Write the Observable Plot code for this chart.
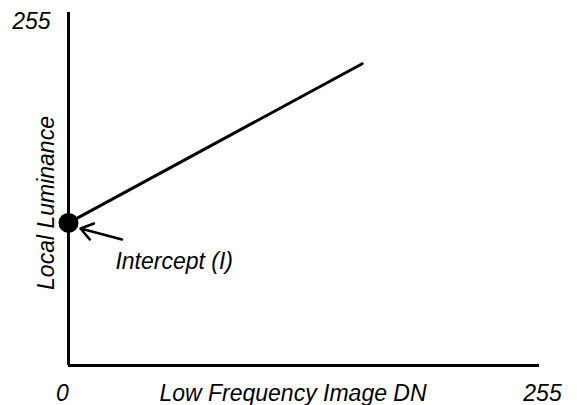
<!DOCTYPE html>
<html>
<head>
<meta charset="utf-8">
<script src="https://cdn.jsdelivr.net/npm/d3@7"></script>
<script src="https://cdn.jsdelivr.net/npm/@observablehq/plot@0.6"></script>
<style>
  html, body { margin: 0; padding: 0; background: #fff; }
  #chart svg { display: block; }
</style>
</head>
<body>
<div id="chart"></div>
<script>
// Data (DN units, 0–255)
const axisDomain = [0, 255];
const lineX = [0, 159];
const lineY = [103, 218];
const interceptX = [0];
const interceptY = [103];
const arrowFromX = [29];
const arrowFromY = [91];
const arrowToX = [6.5];
const arrowToY = [99];
const annotationText = ["Intercept (I)"];
const annotationX = [25.4];
const annotationY = [70];
const xTickValues = [0, 255];
const xTickLabels = ["0", "255"];
const yTickValues = [255];
const yTickLabels = ["255"];
const xTitle = "Low Frequency Image DN";
const yTitle = "Local Luminance";

const font = "'Liberation Sans', Arial, Helvetica, sans-serif";
const fs = 23;

const lineData = lineX.map((x, i) => ({x, y: lineY[i]}));
const dotData = interceptX.map((x, i) => ({x, y: interceptY[i]}));
const arrowData = arrowFromX.map((x, i) => ({x1: x, y1: arrowFromY[i], x2: arrowToX[i], y2: arrowToY[i]}));
const annData = annotationText.map((t, i) => ({t, x: annotationX[i], y: annotationY[i]}));
const xTicks = xTickValues.map((v, i) => ({v, t: xTickLabels[i]}));
const yTicks = yTickValues.map((v, i) => ({v, t: yTickLabels[i]}));

const common = {fontSize: fs, fontStyle: "italic", fill: "#000"};

const chart = Plot.plot({
  width: 577,
  height: 405,
  marginLeft: 68,
  marginRight: 38,
  marginTop: 12,
  marginBottom: 40,
  style: {fontFamily: font, background: "#fff", overflow: "visible"},
  x: {domain: axisDomain, axis: null},
  y: {domain: axisDomain, axis: null},
  marks: [
    Plot.ruleX([axisDomain[0]], {y1: axisDomain[0], y2: axisDomain[1], stroke: "#000", strokeWidth: 3}),
    Plot.ruleY([axisDomain[0]], {x1: axisDomain[0], x2: axisDomain[1], stroke: "#000", strokeWidth: 3}),
    Plot.line(lineData, {x: "x", y: "y", stroke: "#000", strokeWidth: 3}),
    Plot.dot(dotData, {x: "x", y: "y", r: 10, fill: "#000", stroke: "none"}),
    Plot.arrow(arrowData, {x1: "x1", y1: "y1", x2: "x2", y2: "y2", stroke: "#000", strokeWidth: 2.5, headLength: 12, headAngle: 70}),
    Plot.text(annData, {x: "x", y: "y", text: "t", textAnchor: "start", lineAnchor: "bottom", ...common}),
    Plot.text(xTicks.slice(0, 1), {x: "v", y: () => axisDomain[0], text: "t", dx: -6, dy: 35, lineAnchor: "bottom", ...common}),
    Plot.text(xTicks.slice(1), {x: "v", y: () => axisDomain[0], text: "t", dx: 3, dy: 35, lineAnchor: "bottom", ...common}),
    Plot.text(yTicks, {x: () => axisDomain[0], y: "v", text: "t", textAnchor: "end", dx: -18, dy: 16, lineAnchor: "bottom", ...common}),
    Plot.text([xTitle], {frameAnchor: "bottom", text: d => d, textAnchor: "middle", dx: -11, dy: 35, lineAnchor: "bottom", ...common}),
    Plot.text([yTitle], {frameAnchor: "left", text: d => d, textAnchor: "middle", rotate: -90, dx: -15, dy: 14, lineAnchor: "bottom", ...common})
  ]
});
document.getElementById("chart").appendChild(chart);
</script>
</body>
</html>
